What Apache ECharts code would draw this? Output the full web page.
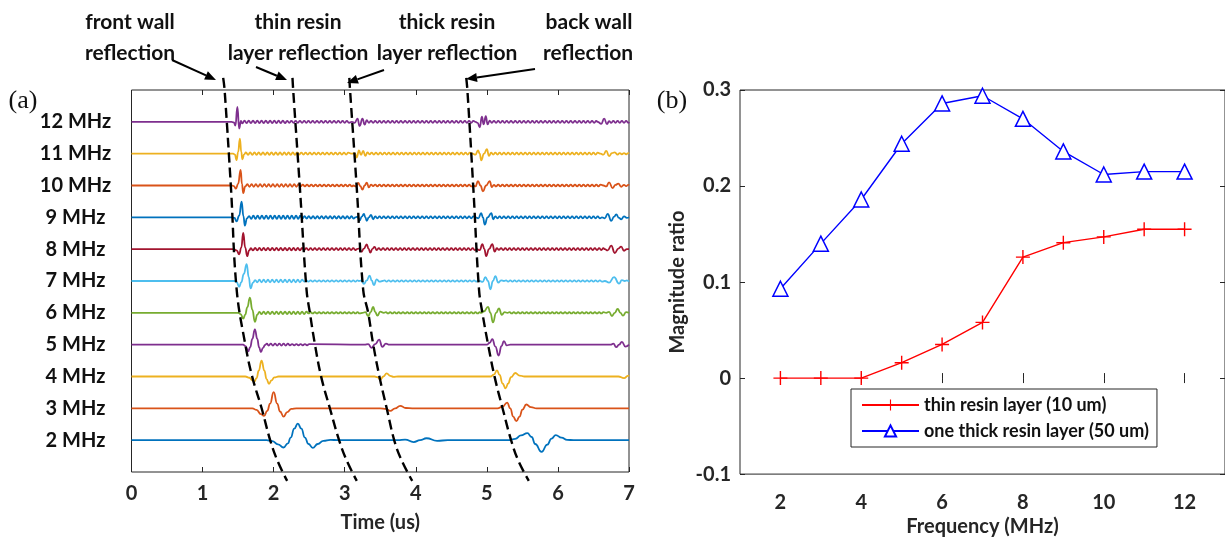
<!DOCTYPE html>
<html><head><meta charset="utf-8">
<script src="https://cdn.jsdelivr.net/npm/echarts@6/dist/echarts.min.js"></script>
<style>html,body{margin:0;padding:0;background:#fff}#c{width:1225px;height:542px}</style>
</head><body><div id="c"></div><script>
// ---------- Panel (a): ultrasonic A-scans, one trace per centre frequency ----------
const FREQS = [2,3,4,5,6,7,8,9,10,11,12];
const FREQ_LABELS = ['2 MHz','3 MHz','4 MHz','5 MHz','6 MHz','7 MHz','8 MHz','9 MHz','10 MHz','11 MHz','12 MHz'];
const TIME_TICKS = [0,1,2,3,4,5,6,7];
const RING_DT = 0.03; // sample step (us) of the typed ringing samples
// echo samples: [time (us), amplitude (a.u., 100 = trace spacing)]
const echo2 = [[1.90,0],[1.98,-3],[2.06,-13],[2.14,-23],[2.20,-10],[2.24,8],[2.29,36],[2.34,52],[2.39,36],[2.44,8],[2.49,-12],[2.55,-24],[2.62,-12],[2.70,-2],[2.80,1],[2.90,0],
 [3.75,0],[3.85,2],[3.97,-6],[4.06,0],[4.15,6],[4.30,-2],[4.45,0],
 [5.30,0],[5.40,4],[5.48,15],[5.57,22],[5.63,10],[5.68,-12],[5.77,-37],[5.85,-14],[5.91,5],[5.97,16],[6.05,8],[6.13,1],[6.22,0]];
const ring2 = [];
const echo3 = [[1.70,0],[1.76,-5],[1.82,-18],[1.865,-24],[1.91,-8],[1.95,15],[2.00,51],[2.05,15],[2.09,-10],[2.14,-26],[2.19,-12],[2.25,-2],[2.32,0],
 [3.50,0],[3.58,-2],[3.64,-8],[3.71,0],[3.78,8],[3.86,1],[3.95,0],
 [5.15,0],[5.22,5],[5.285,18],[5.33,0],[5.37,-26],[5.415,-40],[5.46,-26],[5.50,-4],[5.555,12],[5.62,4],[5.70,0]];
const ring3 = [];
const echo4 = [[1.60,0],[1.66,-4],[1.70,-12],[1.727,-16],[1.76,-5],[1.79,18],[1.83,50],[1.87,18],[1.90,-8],[1.935,-23],[1.97,-12],[2.01,-3],[2.07,0],
 [3.42,0],[3.46,-2],[3.50,-10],[3.545,0],[3.59,10],[3.64,2],[3.69,-1],[3.75,0],
 [5.05,0],[5.10,6],[5.142,19],[5.18,5],[5.22,-22],[5.264,-37],[5.30,-22],[5.34,-2],[5.40,11],[5.46,3],[5.53,0],
 [6.85,0],[6.93,-5],[6.99,3]];
const ring4 = [];
const echo5 = [[1.57,0],[1.605,-5],[1.642,-21],[1.67,-8],[1.70,18],[1.736,48],[1.77,18],[1.795,-8],[1.82,-23],[1.85,-10],[1.88,-1],[1.905,3],
 [3.28,0],[3.33,2],[3.376,-10],[3.43,2],[3.484,16],[3.53,-7],[3.58,3],[3.63,0],
 [5.00,0],[5.04,6],[5.077,17],[5.12,-6],[5.166,-34],[5.205,-5],[5.24,11],[5.28,-2],[5.33,0],
 [6.74,0],[6.78,3],[6.82,-8],[6.86,0],[6.90,9],[6.95,-6],[7.0,0]];
const ring5 = [[1.93,[-3,3,-3,3,-3,3,-3,3,-3,3, -2,2,-2,2,-2,2,-2,2,-2,2]]];
const echo6 = [[1.50,0],[1.535,-4],[1.572,-18],[1.60,-6],[1.63,18],[1.666,48],[1.70,10],[1.736,-28],[1.77,-6],[1.80,3],
 [3.25,0],[3.29,2],[3.33,-10],[3.365,2],[3.40,19],[3.43,2],[3.46,-9],[3.50,4],[3.55,0],
 [4.92,0],[4.96,5],[5.016,19],[5.05,0],[5.086,-30],[5.13,0],[5.17,14],[5.21,-6],[5.25,2],[5.29,0],
 [6.68,0],[6.72,3],[6.76,-10],[6.80,0],[6.84,12],[6.88,0],[6.915,-9],[6.96,2],[7.0,0]];
const ring6 = [
 [1.83,[-4,4,-4,4,-4,4,-4,4,-4,4, -4,4,-4,4,-4,4,-4,4,-4,4, -4,4,-2,2,-2,2,-2,2,-2,2, -2,2,-2,2,-2,2,-2,2,-2,2, -2,2,-2,2,-2,2,-2]],
 [3.58,[2,-2,2,-2,2,-2,2,-2,2,-2, 2,-2,2,-2,2,-2,2,-2,2,-2, 2,-2,2,-2,2,-2,2,-2,2,-2, 2,-2,2,-2,2,-2,2,-2,2,-2, 2,-2,2,-2,2]],
 [5.32,[2,-2,2,-2,2,-2,2,-2,2,-2, 2,-2,2,-2,2,-2,2,-2,2,-2, 2,-2,2,-2,2,-2,2,-2,2,-2, 2,-2,2,-2,2,-2,2,-2,2,-2, 2,-2,2,-2,2]]];
const echo7 = [[1.45,0],[1.48,-4],[1.515,-18],[1.545,-4],[1.58,22],[1.62,53],[1.65,12],[1.675,-23],[1.71,-5],[1.74,3],
 [3.20,0],[3.235,2],[3.27,-9],[3.31,2],[3.35,17],[3.38,2],[3.41,-13],[3.45,5],[3.49,-2],[3.53,0],
 [4.90,0],[4.94,-3],[4.98,12],[5.015,0],[5.05,-26],[5.085,0],[5.12,15],[5.16,-5],[5.20,2],[5.24,0],
 [6.66,0],[6.72,-5],[6.79,12],[6.86,-8],[6.90,3],[6.94,0]];
const ring7 = [
 [1.77,[-4,4,-4,4,-4,4,-4,4,-4,4, -4,4,-4,4,-4,4,-4,4,-4,4, -4,4,-2,2,-2,2,-2,2,-2,2, -2,2,-2,2,-2,2,-2,2,-2,2, -2,2,-2,2,-2,2,-2,2]],
 [3.56,[2,-2,2,-2,2,-2,2,-2,2,-2, 2,-2,2,-2,2,-2,2,-2,2,-2, 2,-2,2,-2,2,-2,2,-2,2,-2, 2,-2,2,-2,2,-2,2,-2,2,-2, 2,-2,2,-2,2]],
 [5.27,[2,-2,2,-2,2,-2,2,-2,2,-2, 2,-2,2,-2,2,-2,2,-2,2,-2, 2,-2,2,-2,2,-2,2,-2,2,-2, 2,-2,2,-2,2,-2,2,-2,2,-2, 2,-2,2,-2,2,-2]],
 [6.97,[2,-2]]];
const echo8 = [[1.44,0],[1.48,-4],[1.515,-16],[1.545,5],[1.572,51],[1.60,5],[1.628,-22],[1.655,-4],[1.68,3],
 [3.17,0],[3.20,2],[3.235,-8],[3.27,2],[3.31,15],[3.335,2],[3.36,-11],[3.39,1],[3.42,7],[3.45,-3],
 [4.86,0],[4.90,-3],[4.937,16],[4.965,0],[4.99,-22],[5.03,0],[5.077,16],[5.11,-8],[5.14,3],[5.17,-2],
 [6.66,0],[6.70,-4],[6.75,11],[6.80,-12],[6.85,2],[6.89,8],[6.93,-5],[6.97,0]];
const ring8 = [
 [1.71,[-4,4,-4,4,-4,4,-4,4,-4,4, -4,4,-4,4,-4,4,-4,4,-4,4, -4,4,-4,4,-3,3,-3,3,-3,3, -3,3,-3,3,-3,3,-3,3,-3,3, -3,3,-3,3,-3,3,-3,3,-3]],
 [3.48,[3,-3,3,-3,3,-3,3,-3,3,-3, 3,-3,3,-3,3,-3,3,-3,3,-3, 3,-3,3,-3,3,-3,3,-3,3,-3, 3,-3,3,-3,3,-3,3,-3,3,-3, 3,-3,3,-3,3,-3]],
 [5.20,[3,-3,3,-3,3,-3,3,-3,3,-3, 3,-3,3,-3,3,-3,3,-3,3,-3, 3,-3,3,-3,3,-3,3,-3,3,-3, 3,-3,3,-3,3,-3,3,-3,3,-3, 3,-3,3,-3,3,-3,3,-3,3]]];
const echo9 = [[1.42,0],[1.45,-2],[1.478,-13],[1.515,5],[1.549,49],[1.575,4],[1.595,-26],[1.625,-3],[1.655,4],
 [3.15,0],[3.18,2],[3.21,-10],[3.24,2],[3.27,11],[3.29,0],[3.31,-11],[3.34,0],[3.37,8],[3.40,-6],[3.43,3],
 [4.84,0],[4.88,-3],[4.92,13],[4.945,0],[4.97,-23],[5.01,0],[5.063,13],[5.09,-6],[5.12,3],
 [6.62,0],[6.66,-3],[6.70,11],[6.75,-11],[6.79,2],[6.82,9],[6.86,-2],[6.89,-6],[6.93,3],[6.97,-2]];
const ring9 = [
 [1.685,[-5,5,-5,5,-5,5,-5,5,-5,5, -5,5,-5,5,-5,5,-5,5,-5,5, -5,5,-5,5,-4,4,-4,4,-4,4, -4,4,-4,4,-4,4,-4,4,-4,4, -4,4,-4,4,-4,4,-4,4,-4]],
 [3.46,[-3,3,-3,3,-3,3,-3,3,-3,3, -3,3,-3,3,-3,3,-3,3,-3,3, -3,3,-3,3,-3,3,-3,3,-3,3, -3,3,-3,3,-3,3,-3,3,-3,3, -3,3,-3,3,-3,3]],
 [5.15,[-3,3,-3,3,-3,3,-3,3,-3,3, -3,3,-3,3,-3,3,-3,3,-3,3, -3,3,-3,3,-3,3,-3,3,-3,3, -3,3,-3,3,-3,3,-3,3,-3,3, -3,3,-3,3,-3,3,-3,3,-3]]];
const echo10 = [[1.41,0],[1.44,-2],[1.469,-10],[1.50,5],[1.535,49],[1.555,4],[1.572,-24],[1.60,-3],[1.63,4],
 [3.12,0],[3.16,-3],[3.19,8],[3.22,-2],[3.25,-13],[3.28,0],[3.31,9],[3.34,-6],[3.37,3],[3.40,-2],
 [4.81,0],[4.84,-3],[4.875,14],[4.91,0],[4.945,-18],[4.99,0],[5.04,14],[5.07,-5],[5.10,2],
 [6.64,0],[6.68,-3],[6.72,10],[6.77,-8],[6.81,2],[6.85,6],[6.89,-4],[6.93,2]];
const ring10 = [
 [1.66,[-4,4,-4,4,-4,4,-4,4,-4,4, -4,4,-4,4,-4,4,-4,4,-4,4, -4,4,-4,4,-3,3,-3,3,-3,3, -3,3,-3,3,-3,3,-3,3,-3,3, -3,3,-3,3,-3,3,-3,3,-3]],
 [3.43,[3,-3,3,-3,3,-3,3,-3,3,-3, 3,-3,3,-3,3,-3,3,-3,3,-3, 3,-3,3,-3,3,-3,3,-3,3,-3, 3,-3,3,-3,3,-3,3,-3,3,-3, 3,-3,3,-3,3,-3]],
 [5.13,[-3,3,-3,3,-3,3,-3,3,-3,3, -3,3,-3,3,-3,3,-3,3,-3,3, -3,3,-3,3,-3,3,-3,3,-3,3, -3,3,-3,3,-3,3,-3,3,-3,3, -3,3,-3,3,-3,3,-3,3,-3,3]],
 [6.96,[-2,2]]];
const echo11 = [[1.43,0],[1.455,-3],[1.478,-20],[1.50,5],[1.525,47],[1.545,5],[1.56,-18],[1.585,-2],[1.61,4],
 [3.10,0],[3.14,2],[3.17,-12],[3.20,10],[3.23,-4],[3.26,9],[3.29,-7],[3.32,4],[3.35,-2],
 [4.80,0],[4.84,-3],[4.875,10],[4.90,0],[4.92,-21],[4.96,0],[5.00,14],[5.03,-7],[5.06,3],
 [6.60,0],[6.64,-3],[6.68,9],[6.72,-8],[6.76,2],[6.80,4],[6.84,-3]];
const ring11 = [
 [1.64,[-4,4,-4,4,-4,4,-4,4,-4,4, -4,4,-4,4,-4,4,-4,4,-4,4, -4,4,-4,4,-3,3,-3,3,-3,3, -3,3,-3,3,-3,3,-3,3,-3,3, -3,3,-3,3,-3,3,-3,3]],
 [3.38,[3,-3,3,-3,3,-3,3,-3,3,-3, 3,-3,3,-3,3,-3,3,-3,3,-3, 3,-3,3,-3,3,-3,3,-3,3,-3, 3,-3,3,-3,3,-3,3,-3,3,-3, 3,-3,3,-3,3,-3,3]],
 [5.09,[-3,3,-3,3,-3,3,-3,3,-3,3, -3,3,-3,3,-3,3,-3,3,-3,3, -3,3,-3,3,-3,3,-3,3,-3,3, -3,3,-3,3,-3,3,-3,3,-3,3, -3,3,-3,3,-3,3,-3,3,-3,3]],
 [6.87,[2,-2,2,-2,2]]];
const echo12 = [[1.41,0],[1.44,-2],[1.462,-12],[1.49,47],[1.515,-21],[1.54,3],[1.56,-5],
 [3.10,0],[3.14,-3],[3.18,10],[3.21,-13],[3.25,10],[3.28,-9],[3.31,5],[3.34,-3],
 [4.84,0],[4.87,-3],[4.90,-17],[4.93,16],[4.955,-8],[4.985,18],[5.01,-8],[5.04,4],[5.07,-3],
 [6.56,0],[6.61,-6],[6.65,10],[6.69,-7],[6.72,2]];
const ring12 = [
 [1.59,[4,-4,4,-4,4,-4,4,-4,4,-4, 4,-4,4,-4,4,-4,4,-4,4,-4, 3,-3,3,-3,3,-3,3,-3,3,-3, 3,-3,3,-3,3,-3,3,-3,3,-3, 3,-3,3,-3,3,-3,3,-3,3,-3]],
 [3.37,[3,-3,3,-3,3,-3,3,-3,3,-3, 3,-3,3,-3,3,-3,3,-3,3,-3, 3,-3,3,-3,3,-3,3,-3,3,-3, 3,-3,3,-3,3,-3,3,-3,3,-3, 3,-3,3,-3,3,-3,3,-3,3]],
 [5.10,[3,-3,3,-3,3,-3,3,-3,3,-3, 3,-3,3,-3,3,-3,3,-3,3,-3, 3,-3,3,-3,3,-3,3,-3,3,-3, 3,-3,3,-3,3,-3,3,-3,3,-3, 3,-3,3,-3,3,-3,3,-3,3]],
 [6.75,[-3,3,-3,3,-3,3,-3,3,-3]]];
const ECHOES = [echo2,echo3,echo4,echo5,echo6,echo7,echo8,echo9,echo10,echo11,echo12];
const RINGS = [ring2,ring3,ring4,ring5,ring6,ring7,ring8,ring9,ring10,ring11,ring12];
// dashed guide curves [time (us), trace-axis value]
const frontWall = [[1.29,1338],[1.31,1300],[1.40,990],[1.48,672],[1.60,502],[1.70,398],[1.83,301],[1.955,197],[2.06,132],[2.19,72]];
const thinLayer = [[2.265,1338],[2.275,1300],[2.37,990],[2.463,672],[2.51,600],[2.58,502],[2.67,398],[2.79,301],[2.925,197],[3.03,135],[3.17,72]];
const thickLayer = [[3.065,1338],[3.075,1300],[3.17,990],[3.26,672],[3.33,600],[3.40,502],[3.49,398],[3.59,301],[3.70,197],[3.80,137],[3.95,72]];
const backWall = [[4.71,1338],[4.726,1300],[4.81,990],[4.89,672],[4.937,600],[5.016,502],[5.11,398],[5.22,301],[5.345,197],[5.44,137],[5.59,72]];
const GUIDES = [frontWall, thinLayer, thickLayer, backWall];

// ---------- Panel (b): magnitude ratio vs frequency ----------
const BAND_FREQ = [2,3,4,5,6,7,8,9,10,11,12];
const BAND_TICKS = [2,4,6,8,10,12];
const RATIO_TICKS = [-0.1,0,0.1,0.2,0.3];
const thinRatio  = [0,0,0,0.016,0.035,0.058,0.126,0.141,0.147,0.155,0.155];
const thickRatio = [0.093,0.140,0.186,0.244,0.286,0.294,0.270,0.236,0.212,0.215,0.215];
const SERIES_NAMES = ['thin resin layer (10 um)','one thick resin layer (50 um)'];

// ---------- styles ----------
const TRACE_COLORS = ['#0072BD','#D95319','#EDB120','#7E2F8E','#77AC30','#4DBEEE','#A2142F','#0072BD','#D95319','#EDB120','#7E2F8E'];
const FONT = 'Lato';
const AX = '#262626';
const PLUS = 'path://M9,0H11V9H20V11H11V20H9V11H0V9H9Z';

function traceData(offset, echo, ring){
  const pts = [[0,0]].concat(echo.map(p=>[p[0],p[1]]));
  ring.forEach(([t0, vals]) => vals.forEach((v,i) => pts.push([+(t0 + i*RING_DT).toFixed(4), v])));
  pts.sort((a,b)=>a[0]-b[0]);
  if (pts[pts.length-1][0] < 7) pts.push([7,0]);
  return pts.map(([t,v]) => [t, offset + v]);
}

const series = [];
FREQS.forEach((f,i) => {
  series.push({type:'line', xAxisIndex:0, yAxisIndex:0, data: traceData(f*100, ECHOES[i], RINGS[i]),
    showSymbol:false, smooth:0.5, smoothMonotone:'x', silent:true, animation:false,
    lineStyle:{color:TRACE_COLORS[i], width:1.8}, z:2});
});
GUIDES.forEach(g => series.push({type:'line', xAxisIndex:0, yAxisIndex:0, data:g, clip:false,
  showSymbol:false, smooth:0.4, silent:true, animation:false,
  lineStyle:{color:'#000', width:2.4, type:[10,5]}, z:5}));
series.push({name:SERIES_NAMES[0], type:'line', xAxisIndex:2, yAxisIndex:1,
  data: BAND_FREQ.map((f,i)=>[f, thinRatio[i]]), symbol:PLUS, symbolSize:14, showAllSymbol:true,
  itemStyle:{color:'#FF0000'}, lineStyle:{color:'#FF0000', width:1.4}, animation:false, z:3});
series.push({name:SERIES_NAMES[1], type:'line', xAxisIndex:2, yAxisIndex:1,
  data: BAND_FREQ.map((f,i)=>[f, thickRatio[i]]), symbol:'triangle', symbolSize:15, showAllSymbol:true,
  itemStyle:{color:'#FFFFFF', borderColor:'#0000FF', borderWidth:1.5}, lineStyle:{color:'#0000FF', width:1.4}, animation:false, z:3});

const lblStyle = {fontFamily:FONT, fontWeight:'bold', color:AX};
const tick = {inside:true, length:5, lineStyle:{color:AX, width:1}};

function arrow(x1,y1,x2,y2){
  const dx=x2-x1, dy=y2-y1, L=Math.hypot(dx,dy), ux=dx/L, uy=dy/L, hl=11, hw=4.5;
  const bx=x2-ux*hl, by=y2-uy*hl;
  return [
    {type:'line', shape:{x1,y1,x2:bx,y2:by}, style:{stroke:'#000', lineWidth:2}, silent:true},
    {type:'polygon', shape:{points:[[x2,y2],[bx-uy*hw,by+ux*hw],[bx+uy*hw,by-ux*hw]]}, style:{fill:'#000'}, silent:true}
  ];
}
function label(x,y,text,size,font,weight){
  return {type:'text', x, y, silent:true, style:{text, fill:'#111', font:`${weight||'bold'} ${size}px ${font||FONT}`, align:'center', verticalAlign:'middle'}};
}

const graphic = [
  label(130,22,'front wall',21), label(130,53,'reflection',21),
  label(298,22,'thin resin',21), label(298,53,'layer reflection',21),
  label(447,22,'thick resin',21), label(447,53,'layer reflection',21),
  label(589,22,'back wall',21), label(588,53,'reflection',21),
  label(23,101,'(a)',26,'"Liberation Serif", "DejaVu Serif", serif','normal'),
  label(672,101,'(b)',26,'"Liberation Serif", "DejaVu Serif", serif','normal'),
  ...arrow(172,60,216,80), ...arrow(256,67,287,80), ...arrow(384,70,347,83), ...arrow(535,69,466,79)
];

const option = {
  animation:false,
  backgroundColor:'#fff',
  grid:[
    {left:131.5, top:90, width:497.5, height:382, show:true, borderColor:AX, borderWidth:1, backgroundColor:'transparent'},
    {left:740, top:90, width:491, height:386, show:true, borderColor:AX, borderWidth:1, backgroundColor:'transparent'}
  ],
  xAxis:[
    {gridIndex:0, type:'value', min:0, max:7, interval:1, position:'bottom',
     axisLine:{show:false}, axisTick:tick, splitLine:{show:false},
     axisLabel:{...lblStyle, fontSize:20, margin:12, formatter:v=>TIME_TICKS.includes(v)?String(v):''},
     name:'Time (us)', nameLocation:'middle', nameGap:41, nameTextStyle:{...lblStyle, fontSize:20}},
    {gridIndex:0, type:'value', min:0, max:7, interval:1, position:'top',
     axisLine:{show:false}, axisTick:tick, splitLine:{show:false}, axisLabel:{show:false}},
    {gridIndex:1, type:'value', min:1, max:13, interval:1, position:'bottom',
     axisLine:{show:false}, axisTick:{...tick, customValues:BAND_TICKS}, splitLine:{show:false},
     axisLabel:{...lblStyle, fontSize:20, margin:18, customValues:BAND_TICKS, formatter:v=>BAND_TICKS.includes(v)?String(v):''},
     name:'Frequency (MHz)', nameLocation:'middle', nameGap:41, nameTextStyle:{...lblStyle, fontSize:20}},
    {gridIndex:1, type:'value', min:1, max:13, interval:1, position:'top',
     axisLine:{show:false}, axisTick:{...tick, customValues:BAND_TICKS}, splitLine:{show:false}, axisLabel:{show:false}}
  ],
  yAxis:[
    {gridIndex:0, type:'value', min:100, max:1300, interval:100,
     axisLine:{show:false}, axisTick:{show:false}, splitLine:{show:false},
     axisLabel:{...lblStyle, color:'#111', fontSize:20, align:'center', margin:56,
       customValues:FREQS.map(f=>f*100),
       formatter:v=>{const i=FREQS.indexOf(Math.round(v/100)); return (i>=0 && v%100===0)?FREQ_LABELS[i]:'';}}},
    {gridIndex:1, type:'value', min:-0.1, max:0.3, interval:0.1,
     axisLine:{show:false}, axisTick:tick, splitLine:{show:false},
     axisLabel:{...lblStyle, fontSize:20, margin:9, formatter:v=>{const r=Math.round(v*10)/10; return r===0?'0':r.toFixed(1);}},
     name:'Magnitude ratio', nameLocation:'middle', nameGap:52, nameTextStyle:{...lblStyle, fontSize:20}},
    {gridIndex:1, type:'value', min:-0.1, max:0.3, interval:0.1, position:'right',
     axisLine:{show:false}, axisTick:tick, splitLine:{show:false}, axisLabel:{show:false}}
  ],
  legend:{show:true, data:SERIES_NAMES, left:851, top:389, orient:'vertical',
    itemWidth:57, itemHeight:14, itemGap:8, padding:[7,8,7,10],
    borderColor:AX, borderWidth:1, backgroundColor:'#fff',
    textStyle:{fontFamily:FONT, fontWeight:'bold', fontSize:18, color:'#111'}},
  series,
  graphic
};
const chart = echarts.init(document.getElementById('c'), null, {renderer:'canvas', width:1225, height:542});
chart.setOption(option);
</script></body></html>
